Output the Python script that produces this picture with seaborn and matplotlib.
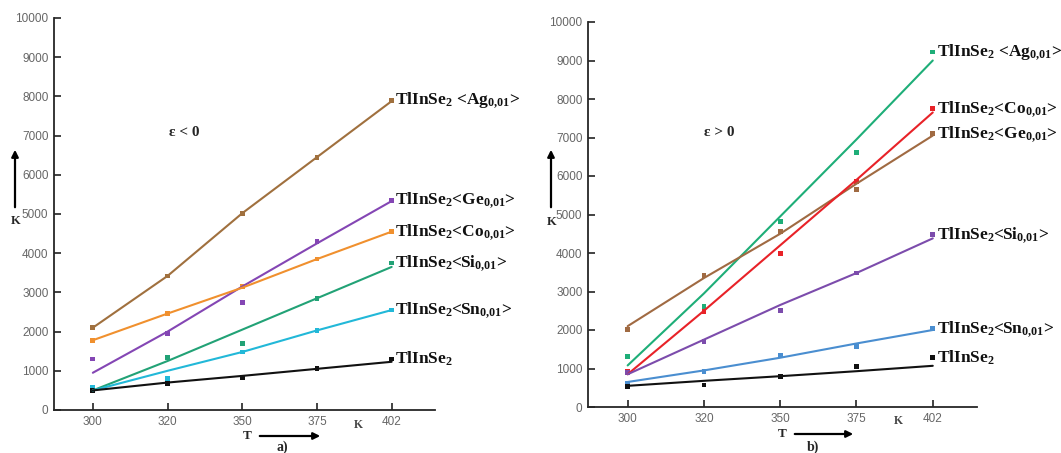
import pandas as pd
import seaborn as sns
import matplotlib.pyplot as plt
from matplotlib.patches import FancyArrowPatch

# region data
temps = ['300', '320', '350', '375', '402']
pos = [0, 1, 2, 3, 4]

# a) eps < 0 : measured points and drawn lines
a_ag_pts = [2100, 3420, 5020, 6450, 7900]
a_ag_fit = [2100, 3420, 5020, 6450, 7880]
a_ge_pts = [1300, 1950, 2750, 4300, 5350]
a_ge_fit = [950, 2000, 3150, 4250, 5330]
a_co_pts = [1780, 2460, 3150, 3850, 4550]
a_co_fit = [1780, 2460, 3120, 3850, 4550]
a_si_pts = [550, 1330, 1700, 2850, 3750]
a_si_fit = [500, 1250, 2050, 2850, 3650]
a_sn_pts = [580, 800, 1480, 2030, 2550]
a_sn_fit = [500, 1000, 1480, 2030, 2550]
a_tl_pts = [500, 680, 830, 1060, 1300]
a_tl_fit = [500, 700, 870, 1050, 1230]

# b) eps > 0
b_ag_pts = [1320, 2620, 4820, 6620, 9220]
b_ag_fit = [1080, 2950, 4950, 6950, 9000]
b_co_pts = [920, 2480, 3980, 5850, 7750]
b_co_fit = [850, 2500, 4200, 5900, 7650]
b_ge_pts = [2020, 3420, 4550, 5650, 7100]
b_ge_fit = [2100, 3350, 4500, 5800, 7050]
b_si_pts = [900, 1700, 2500, 3480, 4480]
b_si_fit = [850, 1750, 2650, 3480, 4380]
b_sn_pts = [600, 920, 1350, 1580, 2030]
b_sn_fit = [650, 950, 1280, 1650, 2000]
b_tl_pts = [530, 570, 800, 1060, 1280]
b_tl_fit = [550, 680, 800, 930, 1070]

names = ['Ag', 'Ge', 'Co', 'Si', 'Sn', 'Tl']
labels = {
    'Ag': r'TlInSe$_2$ <Ag$_{0{,}01}$>',
    'Ge': r'TlInSe$_2$<Ge$_{0{,}01}$>',
    'Co': r'TlInSe$_2$<Co$_{0{,}01}$>',
    'Si': r'TlInSe$_2$<Si$_{0{,}01}$>',
    'Sn': r'TlInSe$_2$<Sn$_{0{,}01}$>',
    'Tl': r'TlInSe$_2$',
}
colors_a = {'Ag': '#a0703e', 'Ge': '#8446b4', 'Co': '#f0902e', 'Si': '#22a276', 'Sn': '#22b8d8', 'Tl': '#111111'}
colors_b = {'Ag': '#1eae78', 'Ge': '#a06a42', 'Co': '#e82228', 'Si': '#7c4cac', 'Sn': '#4a8ed0', 'Tl': '#111111'}
# endregion


def long_df(pts, fits):
    rows = []
    for n, p, f in zip(names, pts, fits):
        for x, pv, fv in zip(pos, p, f):
            rows.append({'series': n, 'pos': x, 'pt': pv, 'fit': fv})
    return pd.DataFrame(rows)


df_a = long_df([a_ag_pts, a_ge_pts, a_co_pts, a_si_pts, a_sn_pts, a_tl_pts],
               [a_ag_fit, a_ge_fit, a_co_fit, a_si_fit, a_sn_fit, a_tl_fit])
df_b = long_df([b_ag_pts, b_ge_pts, b_co_pts, b_si_pts, b_sn_pts, b_tl_pts],
               [b_ag_fit, b_ge_fit, b_co_fit, b_si_fit, b_sn_fit, b_tl_fit])

sns.set_style('ticks')
plt.rcParams['font.family'] = ['Liberation Serif', 'DejaVu Serif']
plt.rcParams['mathtext.fontset'] = 'custom'
plt.rcParams['mathtext.rm'] = 'Liberation Serif:bold'
plt.rcParams['mathtext.it'] = 'Liberation Serif:bold'
plt.rcParams['mathtext.bf'] = 'Liberation Serif:bold'

W, H = 1061, 453
fig = plt.figure(figsize=(W / 100, H / 100), dpi=100)


def fx(x, y):
    return (x / W, 1 - y / H)


ax_a = fig.add_axes([54 / W, 1 - 410 / H, (435 - 54) / W, (410 - 18) / H])
ax_b = fig.add_axes([588 / W, 1 - 407 / H, (977 - 588) / W, (407 - 22) / H])

panels = [(ax_a, df_a, colors_a, r'ε < 0', (1.23, 7090)),
          (ax_b, df_b, colors_b, r'ε > 0', (1.2, 7120))]
for ax, df, cols, eps, eps_xy in panels:
    sns.lineplot(data=df, x='pos', y='fit', hue='series', palette=cols, legend=False,
                 linewidth=1.5, ax=ax)
    sns.scatterplot(data=df, x='pos', y='pt', hue='series', palette=cols, legend=False,
                    marker='s', s=12, linewidth=0, ax=ax)
    last = df[df['pos'] == 4]
    for _, r in last.iterrows():
        ax.text(4.05, r['pt'], labels[r['series']], fontsize=12.5, fontweight='bold',
                va='center', ha='left', color='#111111', clip_on=False)
    ax.text(eps_xy[0], eps_xy[1], eps, fontsize=11, fontweight='bold', ha='center', va='center')
    ax.set_xlim(-0.52, 4.58)
    ax.set_ylim(0, 10000)
    ax.set_xticks(pos)
    ax.set_xticklabels(temps)
    ax.set_yticks(range(0, 10001, 1000))
    ax.tick_params(axis='both', direction='in', labelsize=8.5, labelcolor='#666666',
                   length=5, width=1.2, pad=4, color='#222222')
    for lab in ax.get_xticklabels() + ax.get_yticklabels():
        lab.set_family(['Liberation Sans', 'DejaVu Sans'])
    ax.text(3.55, -0.022, 'K', transform=ax.get_xaxis_transform(), fontsize=8.5,
            fontweight='bold', color='#444444', ha='center', va='top')
    ax.set_xlabel('')
    ax.set_ylabel('')
    sns.despine(ax=ax)
    ax.spines['left'].set_linewidth(1.3)
    ax.spines['bottom'].set_linewidth(1.3)

# axis arrows and captions
arrow = dict(arrowstyle='-|>', color='black', lw=1.6, mutation_scale=10)
for (x0, y0, x1, y1) in [(15, 210, 15, 147), (551, 210, 551, 147),
                         (257, 436, 323, 436), (792, 434, 856, 434)]:
    fig.add_artist(FancyArrowPatch(fx(x0, y0), fx(x1, y1), transform=fig.transFigure, **arrow))

fig.text(*fx(16, 221), 'K', fontsize=9, fontweight='bold', ha='center', va='center')
fig.text(*fx(552, 222), 'K', fontsize=9, fontweight='bold', ha='center', va='center')
fig.text(*fx(247, 436), 'T', fontsize=9.5, fontweight='bold', ha='center', va='center')
fig.text(*fx(782, 434), 'T', fontsize=9.5, fontweight='bold', ha='center', va='center')
fig.text(*fx(282, 447), 'a)', fontsize=10, fontweight='bold', ha='center', va='center')
fig.text(*fx(813, 447), 'b)', fontsize=10, fontweight='bold', ha='center', va='center')

fig.savefig('out.png', dpi=100)
